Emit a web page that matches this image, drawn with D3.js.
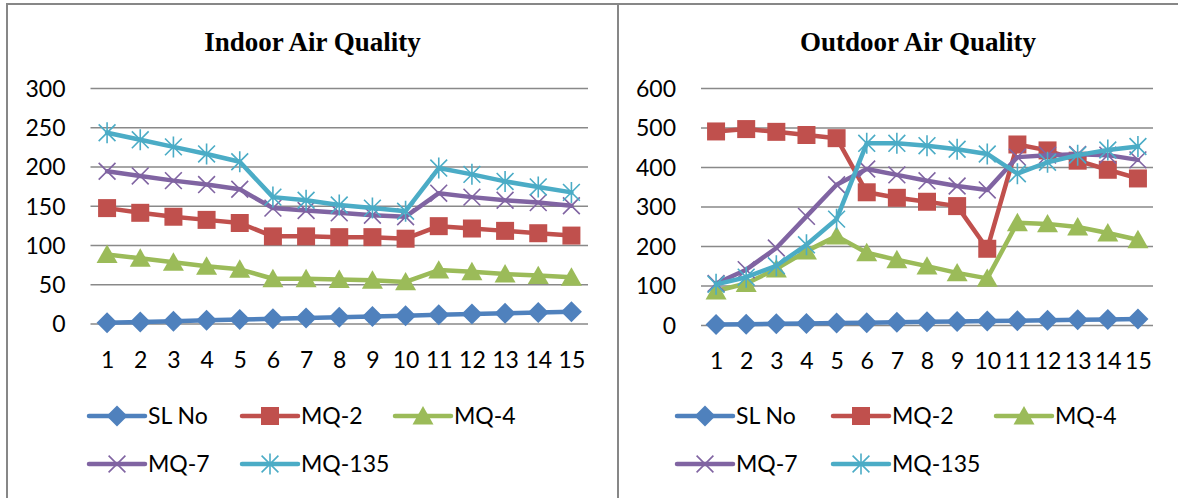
<!DOCTYPE html>
<html>
<head>
<meta charset="utf-8">
<script src="https://cdn.jsdelivr.net/npm/d3@7"></script>
<style>
  html, body { margin: 0; padding: 0; background: #ffffff; overflow: hidden; }
  svg { display: block; }
</style>
</head>
<body>
<svg id="chart" width="1178" height="498"></svg>
<script>
// ---- data -------------------------------------------------------------
const categories = ["1","2","3","4","5","6","7","8","9","10","11","12","13","14","15"];
const seriesNames = ["SL No", "MQ-2", "MQ-4", "MQ-7", "MQ-135"];

const indoorSlNo  = [1, 2, 3, 4, 5, 6, 7, 8, 9, 10, 11, 12, 13, 14, 15];
const indoorMq2   = [147, 141, 136, 132, 128, 111, 111, 110, 110, 108, 124, 121, 118, 115, 112];
const indoorMq4   = [88, 83, 78, 73, 69, 57, 57, 56, 55, 53, 68, 66, 63, 61, 59];
const indoorMq7   = [194, 188, 182, 177, 171, 147, 144, 141, 138, 136, 166, 161, 157, 154, 150];
const indoorMq135 = [243, 234, 225, 216, 206, 161, 157, 151, 147, 143, 198, 190, 181, 174, 167];
const indoorTicks = [0, 50, 100, 150, 200, 250, 300];

const outdoorSlNo  = [1, 2, 3, 4, 5, 6, 7, 8, 9, 10, 11, 12, 13, 14, 15];
const outdoorMq2   = [490, 496, 489, 481, 473, 336, 322, 312, 301, 193, 457, 442, 416, 393, 371];
const outdoorMq4   = [86, 105, 142, 187, 225, 183, 165, 149, 132, 118, 259, 256, 248, 233, 216];
const outdoorMq7   = [105, 140, 195, 275, 355, 395, 380, 365, 352, 342, 425, 430, 432, 430, 418];
const outdoorMq135 = [103, 121, 150, 203, 268, 460, 460, 454, 445, 433, 383, 412, 430, 443, 452];
const outdoorTicks = [0, 100, 200, 300, 400, 500, 600];

// ---- appearance --------------------------------------------------------
const colors = ["#4f81bd", "#c0504d", "#9bbb59", "#8064a2", "#4bacc6"];
const gridColor = "#898989";
const labelFont = "Lato, 'Open Sans', sans-serif";
const titleFont = "'Liberation Serif', 'Times New Roman', serif";

// marker shapes drawn into a d3 path context (r = half width)
const markerShapes = [
  { filled: true,  draw(ctx, r) { ctx.moveTo(0, -r); ctx.lineTo(r, 0); ctx.lineTo(0, r); ctx.lineTo(-r, 0); ctx.closePath(); } },
  { filled: true,  draw(ctx, r) { const s = r * 0.9; ctx.rect(-s, -s, 2 * s, 2 * s); } },
  { filled: true,  draw(ctx, r) { const h = r * 0.95; ctx.moveTo(0, -h); ctx.lineTo(r, h * 0.85); ctx.lineTo(-r, h * 0.85); ctx.closePath(); } },
  { filled: false, draw(ctx, r) { const s = r * 0.8; ctx.moveTo(-s, -s); ctx.lineTo(s, s); ctx.moveTo(-s, s); ctx.lineTo(s, -s); } },
  { filled: false, draw(ctx, r) { const s = r * 0.8; ctx.moveTo(-s, -s); ctx.lineTo(s, s); ctx.moveTo(-s, s); ctx.lineTo(s, -s); ctx.moveTo(0, -r); ctx.lineTo(0, r); } }
];
const markerRadius = [10.5, 10, 10.5, 10.5, 10.5];

function markerPath(i) {
  const p = d3.path();
  markerShapes[i].draw(p, markerRadius[i]);
  return p.toString();
}

function drawMarker(g, i, cx, cy) {
  const shape = markerShapes[i];
  g.append("path")
    .attr("d", markerPath(i))
    .attr("transform", `translate(${cx},${cy})`)
    .attr("fill", shape.filled ? colors[i] : "none")
    .attr("stroke", colors[i])
    .attr("stroke-width", shape.filled ? 0 : 1.6);
}

const svg = d3.select("#chart");

function drawPanel(cfg) {
  const g = svg.append("g");

  // frame
  g.append("rect")
    .attr("x", cfg.box.x).attr("y", cfg.box.y)
    .attr("width", cfg.box.w).attr("height", cfg.box.h)
    .attr("fill", "none").attr("stroke", "#878787").attr("stroke-width", 2);

  // title
  g.append("text")
    .attr("x", cfg.box.x + cfg.box.w / 2).attr("y", 51)
    .attr("text-anchor", "middle")
    .attr("font-family", titleFont).attr("font-weight", "bold").attr("font-size", 27)
    .attr("fill", "#000")
    .text(cfg.title);

  const x = d3.scalePoint().domain(categories).range([cfg.plot.left, cfg.plot.right]).padding(0.5);
  const y = d3.scaleLinear().domain([0, d3.max(cfg.ticks)]).range([cfg.plot.bottom, cfg.plot.top]);

  // value axis with gridlines
  const yAxis = d3.axisLeft(y)
    .tickValues(cfg.ticks)
    .tickSize(-(cfg.plot.right - cfg.plot.left))
    .tickPadding(25)
    .tickFormat(d3.format("d"));
  const ya = g.append("g").attr("transform", `translate(${cfg.plot.left},0)`).call(yAxis);
  ya.select(".domain").remove();
  ya.selectAll(".tick line").attr("stroke", gridColor).attr("stroke-width", 1.5);
  ya.selectAll(".tick text")
    .attr("font-family", labelFont).attr("font-size", 23).attr("fill", "#000")
    .attr("dy", "0.36em");

  // category axis labels
  const xAxis = d3.axisBottom(x).tickSize(0).tickPadding(0);
  const xa = g.append("g").attr("transform", `translate(0,${cfg.plot.bottom})`).call(xAxis);
  xa.select(".domain").remove();
  xa.selectAll(".tick text")
    .attr("font-family", labelFont).attr("font-size", 23).attr("fill", "#000")
    .attr("y", 44).attr("dy", 0);

  // series lines and markers
  const line = d3.line().x((d, j) => x(categories[j])).y(d => y(d));
  cfg.series.forEach((vals, i) => {
    g.append("path")
      .datum(vals)
      .attr("d", line)
      .attr("fill", "none")
      .attr("stroke", colors[i])
      .attr("stroke-width", 4.5)
      .attr("stroke-linejoin", "round")
      .attr("stroke-linecap", "round");
    const mg = g.append("g");
    vals.forEach((v, j) => drawMarker(mg, i, x(categories[j]), y(v)));
  });

  // legend
  cfg.legend.forEach((pos, i) => {
    const lg = g.append("g");
    lg.append("line")
      .attr("x1", pos[0]).attr("x2", pos[0] + 56)
      .attr("y1", pos[1]).attr("y2", pos[1])
      .attr("stroke", colors[i]).attr("stroke-width", 4.5).attr("stroke-linecap", "round");
    drawMarker(lg, i, pos[0] + 28, pos[1]);
    lg.append("text")
      .attr("x", pos[0] + 59).attr("y", pos[1] + 8)
      .attr("font-family", labelFont).attr("font-size", 23).attr("fill", "#000")
      .text(seriesNames[i]);
  });
}

drawPanel({
  title: "Indoor Air Quality",
  box: { x: 7, y: 4, w: 611, h: 520 },
  plot: { left: 90.5, right: 588, top: 88, bottom: 323.5 },
  ticks: indoorTicks,
  series: [indoorSlNo, indoorMq2, indoorMq4, indoorMq7, indoorMq135],
  legend: [[89, 416], [242, 416], [395, 416], [89, 464], [242, 464]]
});

drawPanel({
  title: "Outdoor Air Quality",
  box: { x: 618, y: 4, w: 600, h: 520 },
  plot: { left: 701, right: 1153, top: 88, bottom: 325 },
  ticks: outdoorTicks,
  series: [outdoorSlNo, outdoorMq2, outdoorMq4, outdoorMq7, outdoorMq135],
  legend: [[677, 416], [833, 416], [996, 416], [677, 464], [833, 464]]
});
</script>
</body>
</html>
